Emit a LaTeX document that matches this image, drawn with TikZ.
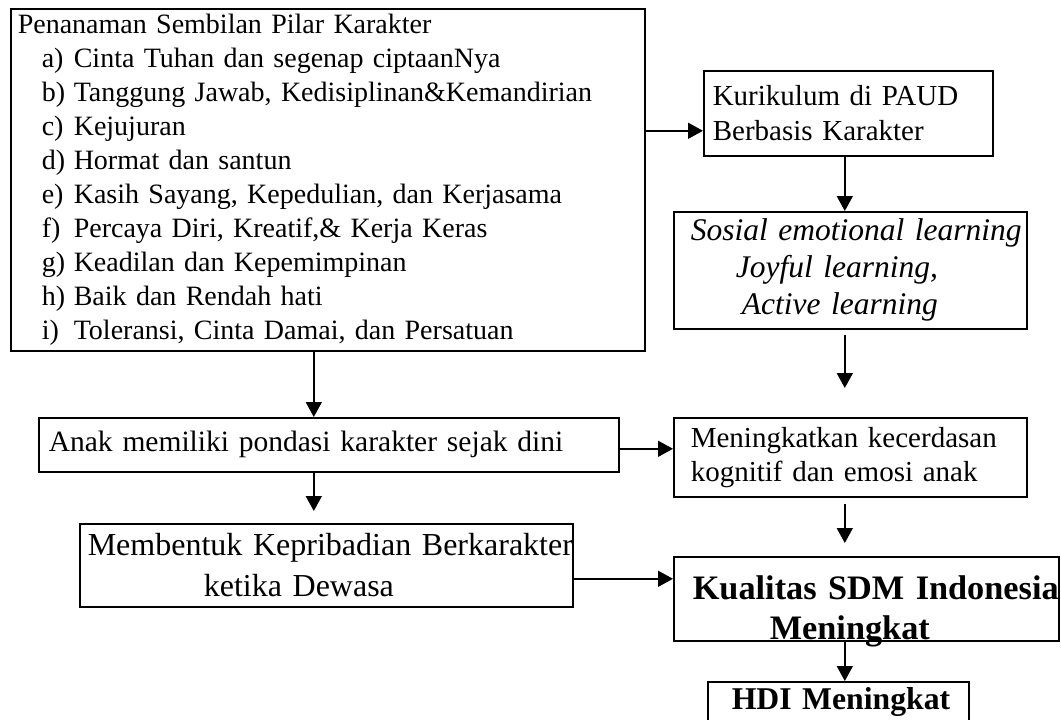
\documentclass[tikz,border=0pt]{standalone}
\usepackage{fontspec}
\setmainfont{Liberation Serif}
\usetikzlibrary{arrows.meta}

\newcommand{\pilaritem}[2]{\hspace*{24pt}\makebox[32pt][l]{#1)}#2}

\begin{document}
\begin{tikzpicture}[x=1pt,y=-1pt,-{Triangle[length=15pt,width=16pt]},line width=1.6pt,
  box/.style={draw,rectangle,line width=1.6pt,anchor=north west,align=left,
    inner ysep=0pt,font=\fontsize{29}{34}\selectfont}]

  \useasboundingbox (0,0) rectangle (1061,720);

  \node[box,inner xsep=7pt,text width=620pt,minimum height=342pt,
    font=\fontsize{28}{34.1}\selectfont] (pilar) at (10,8)
    {Penanaman Sembilan Pilar Karakter\\
     \pilaritem{a}{Cinta Tuhan dan segenap ciptaanNya}\\
     \pilaritem{b}{Tanggung Jawab, Kedisiplinan\&Kemandirian}\\
     \pilaritem{c}{Kejujuran}\\
     \pilaritem{d}{Hormat dan santun}\\
     \pilaritem{e}{Kasih Sayang, Kepedulian, dan Kerjasama}\\
     \pilaritem{f}{Percaya Diri, Kreatif,\& Kerja Keras}\\
     \pilaritem{g}{Keadilan dan Kepemimpinan}\\
     \pilaritem{h}{Baik dan Rendah hati}\\
     \pilaritem{i}{Toleransi, Cinta Damai, dan Persatuan}};

  \node[box,inner xsep=9pt,text width=271pt,minimum height=85pt,
    font=\fontsize{29}{35}\selectfont] (kur) at (703,70)
    {Kurikulum di PAUD\\Berbasis Karakter};

  \node[box,inner xsep=17pt,text width=319pt,minimum height=117pt,
    font=\fontsize{31.5}{37}\selectfont\itshape] (sos) at (673,211)
    {\mbox{Sosial emotional learning}\\
     \hspace*{45pt}Joyful learning,\\
     \hspace*{51pt}Active learning};

  \node[box,inner xsep=10pt,text width=560pt,minimum height=54pt,
    font=\fontsize{29.5}{34}\selectfont] (anak) at (38,417)
    {Anak memiliki pondasi karakter sejak dini};

  \node[box,inner xsep=17pt,text width=319pt,minimum height=79pt] (men) at (673,417)
    {Meningkatkan kecerdasan\\kognitif dan emosi anak};

  \node[box,inner xsep=8pt,text width=477pt,minimum height=83pt,
    font=\fontsize{32}{41}\selectfont] (memb) at (79,523)
    {\mbox{Membentuk Kepribadian Berkarakter}\\
     \hspace*{116pt}ketika Dewasa};

  \node[box,inner xsep=19pt,text width=347pt,text height=43pt,text depth=41pt,
    font=\fontsize{34.3}{40}\selectfont\bfseries] (kual) at (673,556)
    {\mbox{Kualitas SDM Indonesia}\\
     \hspace*{77pt}Meningkat};

  \node[box,inner xsep=24pt,inner ysep=6pt,text width=213pt,
    font=\fontsize{31.7}{36}\selectfont\bfseries] (hdi) at (707,681)
    {\mbox{HDI Meningkat}};

  % arrow ends
  \coordinate (kurin) at ([yshift=-17.5pt]kur.west);
  \coordinate (kurout) at ([xshift=-3.5pt]kur.south);
  \coordinate (sosout) at ([xshift=-5.5pt]sos.south);
  \coordinate (menout) at ([xshift=-5.5pt]men.south);
  \coordinate (kualout) at ([xshift=-21.5pt]kual.south);
  \coordinate (pilarout) at ([xshift=-14pt]pilar.south);
  \coordinate (anakout) at ([xshift=-15pt]anak.south);
  \coordinate (anakright) at ([yshift=-4pt]anak.east);
  \coordinate (membright) at ([yshift=-13.5pt]memb.east);

  \path
  (pilar.east |- kurin) edge (kurin)
  (kurout) edge (kurout |- sos.north)
  (sosout) edge[shorten <=5pt,shorten >=29pt] (sosout |- men.north)
  (menout) edge[shorten <=6pt,shorten >=13pt] (menout |- kual.north)
  (kualout) edge (kualout |- hdi.north)
  (pilarout) edge (pilarout |- anak.north)
  (anakout) edge[shorten >=12pt] (anakout |- memb.north)
  (anakright) edge (anakright -| men.west)
  (membright) edge (membright -| kual.west)
  ;

\end{tikzpicture}
\end{document}
